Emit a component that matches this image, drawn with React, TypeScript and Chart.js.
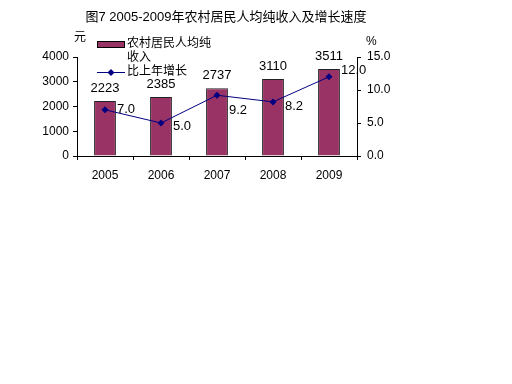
import React, { useEffect, useRef } from "react";
import { Chart, registerables } from "chart.js";

Chart.register(...registerables);

const categories = ["2005", "2006", "2007", "2008", "2009"];
const incomeValues = [2223, 2385, 2737, 3110, 3511];
const growthValues = [7.0, 5.0, 9.2, 8.2, 12.0];
const leftTicks = [0, 1000, 2000, 3000, 4000];
const rightTicks = [0, 5, 10, 15];
const titleText = "图7 2005-2009年农村居民人均纯收入及增长速度";
const barLegend = ["农村居民人均纯", "收入"];
const lineLegend = "比上年增长";

const FONT = "'Liberation Sans', 'Noto Sans CJK SC', sans-serif";
const BAR_COLOR = "#993366";
const LINE_COLOR = "#000080";
const lineLabelDy = [0, 3, 15, 5, -6];

const overlayPlugin = {
  id: "overlay",
  afterDraw(chart: any) {
    const ctx = chart.ctx;
    ctx.save();
    ctx.fillStyle = "#000";
    ctx.textBaseline = "middle";
    // title
    ctx.font = `13px ${FONT}`;
    ctx.textAlign = "center";
    ctx.fillText(titleText, 226, 17);
    // axis units
    ctx.font = `12px ${FONT}`;
    ctx.textAlign = "left";
    ctx.fillText("元", 74, 38);
    ctx.fillText("%", 366, 42);
    // bar value labels
    const barMeta = chart.getDatasetMeta(0);
    ctx.textAlign = "center";
    ctx.font = `13px ${FONT}`;
    barMeta.data.forEach((el: any, i: number) => {
      ctx.fillText(String(incomeValues[i]), el.x, el.y - 13);
    });
    // line value labels
    const lineMeta = chart.getDatasetMeta(1);
    ctx.textAlign = "left";
    lineMeta.data.forEach((el: any, i: number) => {
      ctx.fillText(growthValues[i].toFixed(1), el.x + 12, el.y + lineLabelDy[i]);
    });
    // legend
    ctx.fillStyle = BAR_COLOR;
    ctx.strokeStyle = "#000";
    ctx.lineWidth = 1;
    ctx.fillRect(97.5, 41.5, 27, 6);
    ctx.strokeRect(97.5, 41.5, 27, 6);
    ctx.fillStyle = "#000";
    ctx.font = `12px ${FONT}`;
    ctx.fillText(barLegend[0], 127, 44);
    ctx.fillText(barLegend[1], 127, 58);
    ctx.strokeStyle = LINE_COLOR;
    ctx.beginPath();
    ctx.moveTo(97, 72.5);
    ctx.lineTo(125, 72.5);
    ctx.stroke();
    ctx.fillStyle = LINE_COLOR;
    ctx.beginPath();
    ctx.moveTo(111, 69);
    ctx.lineTo(114.5, 72.5);
    ctx.lineTo(111, 76);
    ctx.lineTo(107.5, 72.5);
    ctx.closePath();
    ctx.fill();
    ctx.fillStyle = "#000";
    ctx.fillText(lineLegend, 127, 72);
    ctx.restore();
  },
};

export default function App() {
  const ref = useRef<HTMLCanvasElement>(null);
  useEffect(() => {
    if (!ref.current) return;
    const chart = new Chart(ref.current, {
      data: {
        labels: categories,
        datasets: [
          {
            type: "bar",
            data: incomeValues,
            backgroundColor: BAR_COLOR,
            borderColor: "#222",
            borderWidth: 1,
            yAxisID: "y",
            categoryPercentage: 1,
            barPercentage: 0.39,
            order: 2,
          },
          {
            type: "line",
            data: growthValues,
            borderColor: LINE_COLOR,
            borderWidth: 1,
            backgroundColor: LINE_COLOR,
            pointStyle: "rectRot",
            pointRadius: 3.5,
            pointBorderWidth: 0,
            yAxisID: "y1",
            order: 1,
          },
        ],
      } as any,
      options: {
        animation: false,
        responsive: false,
        devicePixelRatio: 1,
        layout: { padding: { top: 57, left: 0, right: 0, bottom: 0 } },
        plugins: { legend: { display: false }, title: { display: false }, tooltip: { enabled: false } },
        scales: {
          x: {
            type: "category",
            grid: { display: true, drawOnChartArea: false, offset: true, tickLength: 4, color: "#000" },
            border: { color: "#000" },
            ticks: { color: "#000", font: { family: FONT, size: 12 }, padding: 8 },
            afterFit(scale: any) { scale.height = 228; },
          },
          y: {
            position: "left",
            min: 0,
            max: 4000,
            afterBuildTicks(scale: any) { scale.ticks = leftTicks.map((v) => ({ value: v })); },
            grid: { display: true, drawOnChartArea: false, tickLength: 4, color: "#000" },
            border: { color: "#000" },
            ticks: {
              color: "#000",
              font: { family: FONT, size: 12 },
              padding: 4,
              callback: (v: any) => String(v),
            },
            afterFit(scale: any) { scale.width = 77; },
          },
          y1: {
            position: "right",
            min: 0,
            max: 15,
            afterBuildTicks(scale: any) { scale.ticks = rightTicks.map((v) => ({ value: v })); },
            grid: { display: true, drawOnChartArea: false, tickLength: 4, color: "#000" },
            border: { color: "#000" },
            ticks: {
              color: "#000",
              font: { family: FONT, size: 12 },
              padding: 6,
              callback: (v: any) => Number(v).toFixed(1),
            },
            afterFit(scale: any) { scale.width = 155; },
          },
        },
      } as any,
      plugins: [overlayPlugin],
    });
    return () => chart.destroy();
  }, []);
  return (
    <div style={{ position: "fixed", left: 0, top: 0, width: 512, height: 384, background: "#fff" }}>
      <canvas ref={ref} width={512} height={384} style={{ width: 512, height: 384 }} />
    </div>
  );
}
